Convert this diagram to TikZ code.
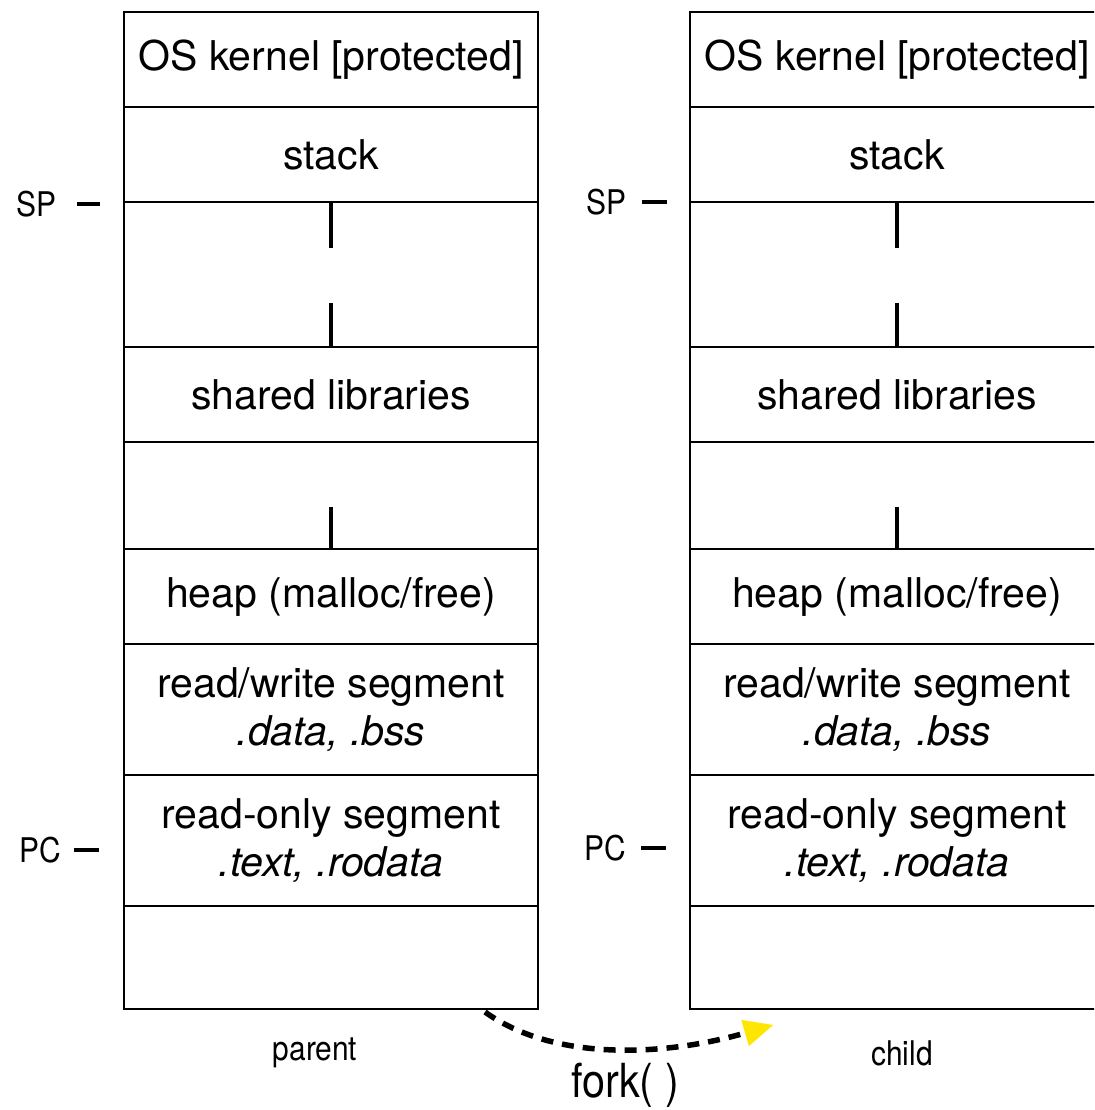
\documentclass[tikz,border=0pt]{standalone}
\usepackage{fontspec}
\setmainfont{TeX Gyre Heros}
\newfontfamily\thinfont[FakeStretch=0.88]{TeX Gyre Heros}
\usetikzlibrary{arrows.meta}
\definecolor{forkyellow}{RGB}{255,230,0}
\newcommand\memcolumn[2]{%
  \node[cell, minimum height=95pt]  (#1a) at (#2,12) {OS kernel [protected]};
  \node[cell, minimum height=95pt]  (#1b) at (#1a.south) {stack};
  \node[cell, minimum height=145pt] (#1c) at (#1b.south) {};
  \node[cell, minimum height=95pt]  (#1d) at (#1c.south) {shared libraries};
  \node[cell, minimum height=107pt] (#1e) at (#1d.south) {};
  \node[cell, minimum height=95pt]  (#1f) at (#1e.south) {heap (malloc/free)};
  \node[cell, minimum height=131pt] (#1g) at (#1f.south) {read/write segment\\\textit{.data, .bss}};
  \node[cell, minimum height=131pt] (#1h) at (#1g.south) {read-only segment\\\textit{.text, .rodata}};
  \node[cell, minimum height=103pt] (#1i) at (#1h.south) {};
  \draw[growtick] (#1c.north) -- ++(0,46);
  \draw[growtick] (#1c.south) -- ++(0,-44);
  \draw[growtick] (#1e.south) -- ++(0,-42);
}
\begin{document}
\begin{tikzpicture}[x=1pt,y=-1pt,
  cell/.style={draw=black, line width=1.8pt, minimum width=414pt, inner sep=0pt,
    outer sep=0pt, anchor=north, align=center, font=\fontsize{41}{48}\selectfont},
  growtick/.style={line width=3.2pt},
  lab/.style={font=\thinfont\fontsize{34}{38}\selectfont, inner sep=0pt},
  regdash/.style={line width=3.2pt},
  forkarrow/.style={line width=5.5pt, dash pattern=on 12pt off 9pt,
    -{Triangle[length=29pt, width=27pt, color=forkyellow, line width=0.01pt]}}
]
\clip (0,0) rectangle (1094,1110);
\fill[white] (0,0) rectangle (1094,1110);

% parent column
\memcolumn{L}{331}
% child column (right edge runs past the picture)
\memcolumn{R}{897}

% register labels
\node[lab, anchor=east] (spL) at (57,204) {SP};
\draw[regdash] ([xshift=20pt]spL.east) -- ++(23,0);
\node[lab, anchor=east] (pcL) at (61,850) {PC};
\draw[regdash] ([xshift=13pt]pcL.east) -- ++(25,0);
\node[lab, anchor=east] (spR) at (627,202) {SP};
\draw[regdash] ([xshift=15pt]spR.east) -- ++(25,0);
\node[lab, anchor=east] (pcR) at (626,848) {PC};
\draw[regdash] ([xshift=15pt]pcR.east) -- ++(25,0);

% captions
\node[lab] (parent) at (315,1053) {parent};
\node[lab] (child) at (902,1053) {child};
\node[font=\thinfont\fontsize{47}{50}\selectfont, inner sep=0pt] (fork) at (625,1085) {fork( )};

% fork arrow
\coordinate (forkstart) at (485,1012);
\coordinate (forkend) at (773,1025);
\draw[forkarrow] (forkstart) .. controls (555,1062) and (665,1056) .. (forkend);
\end{tikzpicture}
\end{document}
